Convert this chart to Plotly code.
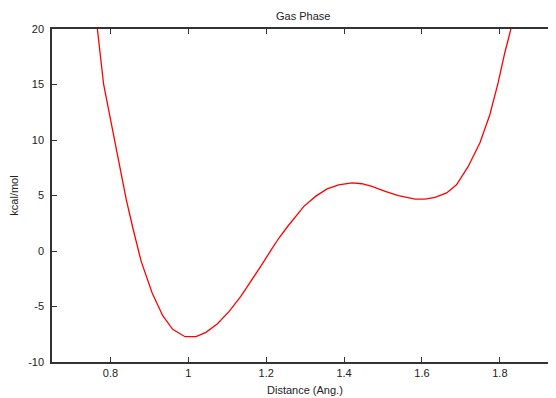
import plotly.graph_objects as go

# Data (Distance in Angstrom, energy in kcal/mol)
distance = [0.742, 0.7665, 0.7826, 0.8107, 0.8304, 0.8407, 0.8576, 0.879, 0.9072,
            0.9343, 0.9598, 0.9916, 1.0197, 1.0453, 1.0749, 1.1049, 1.1348, 1.1604,
            1.1859, 1.2115, 1.2327, 1.254, 1.2754, 1.2967, 1.3266, 1.3563, 1.3862,
            1.4202, 1.4458, 1.4714, 1.5056, 1.5396, 1.5824, 1.6079, 1.6335, 1.6632,
            1.6887, 1.7187, 1.7486, 1.7742, 1.7954, 1.8125, 1.8279, 1.845]
energy = [26.0, 20.0, 15.0, 10.0, 6.49, 4.62, 2.07, -0.94, -3.78,
          -5.83, -7.06, -7.72, -7.72, -7.33, -6.55, -5.44, -4.09, -2.79,
          -1.39, 0.03, 1.17, 2.16, 3.12, 4.02, 4.92, 5.59, 5.95,
          6.13, 6.06, 5.82, 5.37, 4.98, 4.68, 4.68, 4.83, 5.23,
          5.97, 7.62, 9.73, 12.28, 15.14, 17.84, 19.94, 23.5]

x_ticks = [0.8, 1.0, 1.2, 1.4, 1.6, 1.8]
x_tick_labels = ["0.8", "1", "1.2", "1.4", "1.6", "1.8"]
y_ticks = [-10, -5, 0, 5, 10, 15, 20]
y_tick_labels = ["-10", "-5", "0", "5", "10", "15", "20"]

title_text = "Gas Phase"
x_label = "Distance (Ang.)"
y_label = "kcal/mol"

FONT = "Liberation Sans, Arial, Helvetica, sans-serif"
INK = "#222222"

fig = go.Figure()
fig.add_trace(go.Scatter(
    x=distance, y=energy, mode="lines",
    line=dict(color="#ff0000", width=1.3),
    showlegend=False, hoverinfo="skip",
))

axis_common = dict(
    showline=True, linecolor="#333333", linewidth=1.5, mirror="ticks",
    ticks="inside", ticklen=5, tickwidth=1, tickcolor="#333333",
    showgrid=False, zeroline=False,
    tickfont=dict(family=FONT, size=11, color=INK),
)

# The page body has an 8px margin, so the figure is sized to fill the window from (8, 8).
fig.update_layout(
    width=548, height=390,
    margin=dict(l=44, r=1, t=21, b=36, pad=0),
    paper_bgcolor="white", plot_bgcolor="white",
    font=dict(family=FONT, size=11, color=INK),
    xaxis=dict(range=[0.65, 1.9364], tickmode="array", tickvals=x_ticks,
               ticktext=x_tick_labels, ticklabelstandoff=0, **axis_common),
    yaxis=dict(range=[-10, 20], tickmode="array", tickvals=y_ticks,
               ticktext=y_tick_labels, ticklabelstandoff=4, **axis_common),
    annotations=[
        dict(text=title_text, xref="paper", yref="paper", x=0.5, y=1.063,
             xanchor="center", yanchor="top", showarrow=False,
             font=dict(family=FONT, size=11, color=INK)),
        dict(text=x_label, xref="paper", yref="paper", x=0.505, y=-0.083,
             xanchor="center", yanchor="middle", showarrow=False,
             font=dict(family=FONT, size=11, color=INK)),
        dict(text=y_label, xref="paper", yref="paper", x=-0.0775, y=0.5,
             xanchor="center", yanchor="middle", showarrow=False, textangle=-90,
             font=dict(family=FONT, size=11, color=INK)),
    ],
)

fig.write_html("out.html")
